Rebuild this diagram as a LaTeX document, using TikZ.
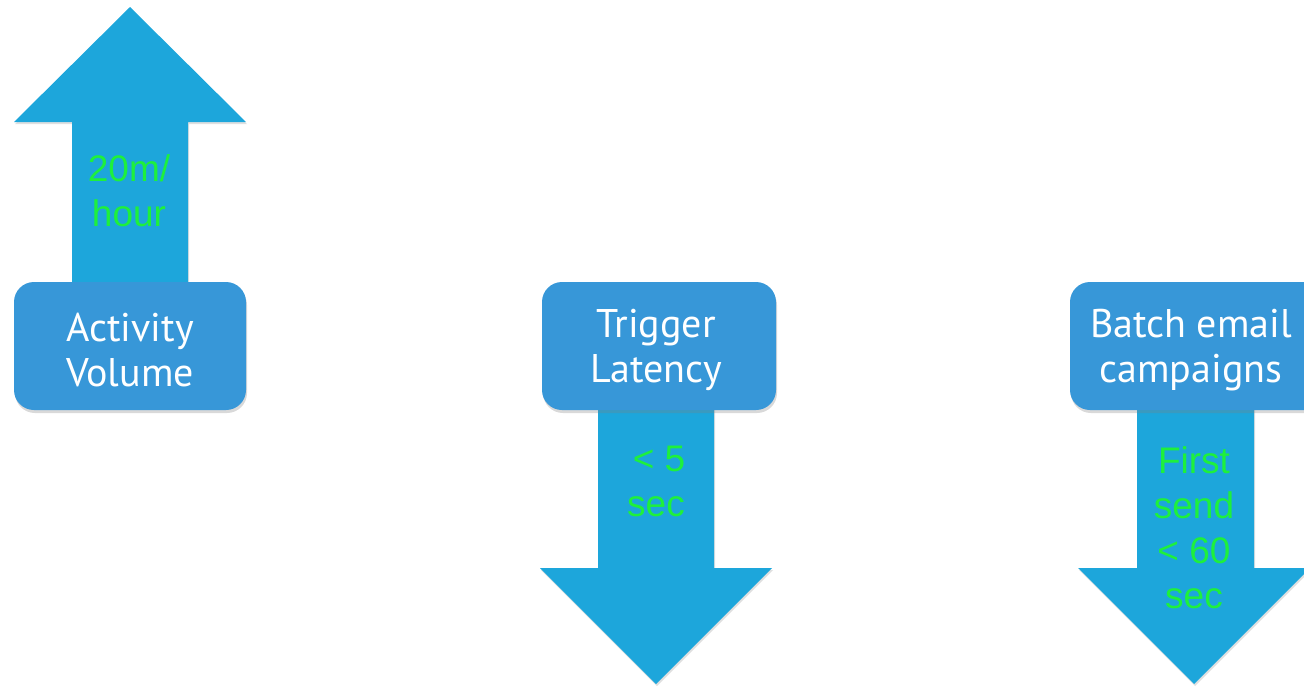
\documentclass[tikz,border=0pt]{standalone}
\usepackage{fontspec}
\setmainfont{PT Sans}
\newfontfamily\arialfont{Liberation Sans}
\usetikzlibrary{shadows}
\definecolor{arrowblue}{HTML}{1DA6DB}
\definecolor{boxblue}{HTML}{3797D8}
\definecolor{labelgreen}{HTML}{1EF03C}
\begin{document}
\begin{tikzpicture}[x=1pt,y=-1pt,
  arrowshape/.style={fill=arrowblue, draw=none, drop shadow={opacity=0.25, shadow xshift=1pt, shadow yshift=-2pt}},
  boxshape/.style={fill=boxblue, draw=none, rounded corners=20pt, drop shadow={opacity=0.3, shadow xshift=1pt, shadow yshift=-3pt}},
  boxtext/.style={text=white, font=\fontsize{40}{45}\selectfont, align=center},
  greentext/.style={text=labelgreen, font=\arialfont\fontsize{37}{45}\selectfont, align=center}]
\useasboundingbox (0,0) rectangle (1304,686);
\clip (0,0) rectangle (1304,686);
% arrow 1 (up)
\path[arrowshape] (72,282) -- (72,122) -- (14,122) -- (130,7) -- (246,122) -- (188,122) -- (188,282) -- cycle;
% arrow 2 (down)
\path[arrowshape] (598,400) -- (598,568) -- (540,568) -- (656,684) -- (772,568) -- (714,568) -- (714,400) -- cycle;
% arrow 3 (down)
\path[arrowshape] (1137,400) -- (1137,568) -- (1078,568) -- (1194,684) -- (1310,568) -- (1254,568) -- (1254,400) -- cycle;
% boxes
\path[boxshape] (14,282) rectangle (246,410);
\path[boxshape] (542,282) rectangle (776,410);
\path[boxshape] (1070,282) rectangle (1324,410);
\node[boxtext] (b1) at (130,350) {Activity\\Volume};
\node[boxtext] (b2) at (656,350) {Trigger\\Latency};
\node[boxtext] (b3) at (1191,350) {Batch email\\campaigns};
\node[greentext] (g1) at (129,191) {20m/\\hour};
\node[greentext] (g2) at (656,481) {\,< 5\\sec};
\node[greentext] (g3) at (1194,528) {First\\send\\< 60\\sec};
\end{tikzpicture}
\end{document}
